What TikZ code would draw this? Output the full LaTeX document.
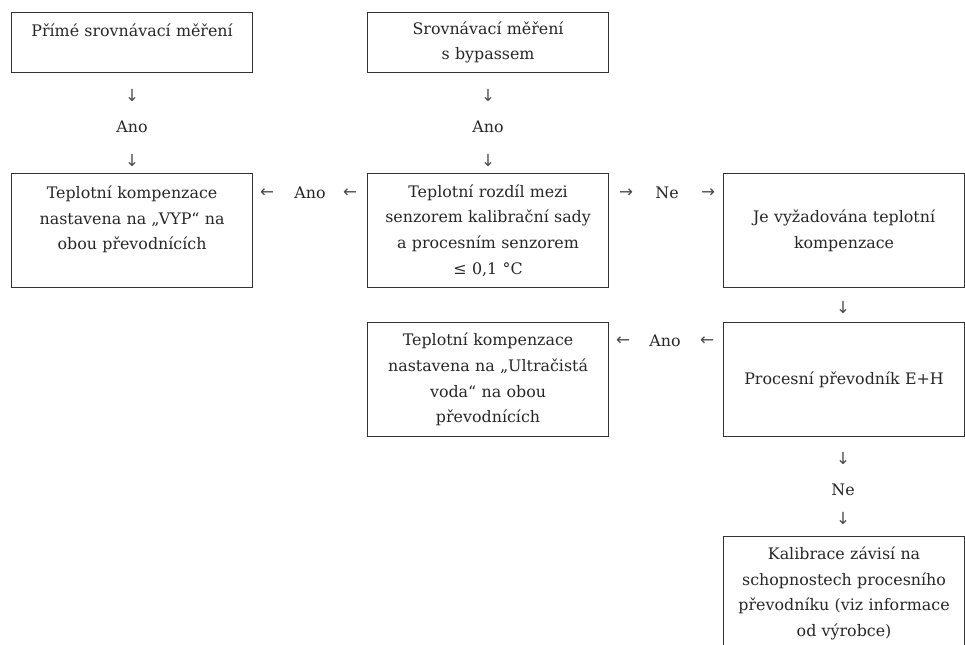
\documentclass[tikz,border=0pt]{standalone}
\usepackage{fontspec}
\setmainfont{DejaVu Serif}
\newfontfamily\arrowfont{DejaVu Sans}
\usepackage{tikz}
\usetikzlibrary{positioning}

\begin{document}
\begin{tikzpicture}[x=0.75pt,y=-0.75pt]
	\tikzstyle{block}=[draw=black!80,line width=0.8pt,anchor=north west,minimum width=180.75pt,text width=178pt,inner xsep=1.4pt,inner ysep=5pt,align=center,text=black!85,font=\fontsize{11.9}{19.2}\selectfont]
	\tikzstyle{lbl}=[inner sep=0pt,text=black!85,font=\fontsize{11.9}{19}\selectfont]
	\tikzstyle{arr}=[inner sep=0pt,text=black!70,font=\arrowfont\fontsize{12.5}{13}\selectfont]
	\useasboundingbox (0,0) rectangle (965,645);
	% boxes
	\node[block,minimum height=45pt](b1) at (11,12) {Přímé srovnávací měření\\~};
	\node[block,minimum height=45pt](b2) at (367,12) {Srovnávací měření\\s bypassem};
	\node[block,minimum height=85.5pt](b3) at (11,173) {Teplotní kompenzace\\nastavena na „VYP“ na\\obou převodnících\\~};
	\node[block,minimum height=85.5pt](b4) at (367,173) {Teplotní rozdíl mezi\\senzorem kalibrační sady\\a procesním senzorem\\≤ 0,1 °C};
	\node[block,minimum height=85.5pt](b5) at (723,173) {Je vyžadována teplotní\\kompenzace};
	\node[block,minimum height=85.5pt](b6) at (367,322) {Teplotní kompenzace\\nastavena na „Ultračistá\\voda“ na obou\\převodnících};
	\node[block,minimum height=85.5pt](b7) at (723,322) {Procesní převodník E+H};
	\node[block,minimum height=85.5pt](b8) at (723,536) {Kalibrace závisí na\\schopnostech procesního\\převodníku (viz informace\\od výrobce)};
	% arrows between the boxes
	\node[arr](a1) at (132,95) {↓};
	\node[lbl](l1) at (132,127) {Ano};
	\node[arr](a2) at (132,160) {↓};
	\node[arr](a3) at (488,95) {↓};
	\node[lbl](l2) at (488,127) {Ano};
	\node[arr](a4) at (488,160) {↓};
	\node[arr](a5) at (267,193) {←};
	\node[lbl](l3) at (310,193) {Ano};
	\node[arr](a6) at (350,193) {←};
	\node[arr](a7) at (626,193) {→};
	\node[lbl](l4) at (667,193) {Ne};
	\node[arr](a8) at (708,193) {→};
	\node[arr](a9) at (843,307) {↓};
	\node[arr](a10) at (623,341) {←};
	\node[lbl](l5) at (665,341) {Ano};
	\node[arr](a11) at (707,341) {←};
	\node[arr](a12) at (843,458) {↓};
	\node[lbl](l6) at (843,490) {Ne};
	\node[arr](a13) at (843,518) {↓};
\end{tikzpicture}
\end{document}
